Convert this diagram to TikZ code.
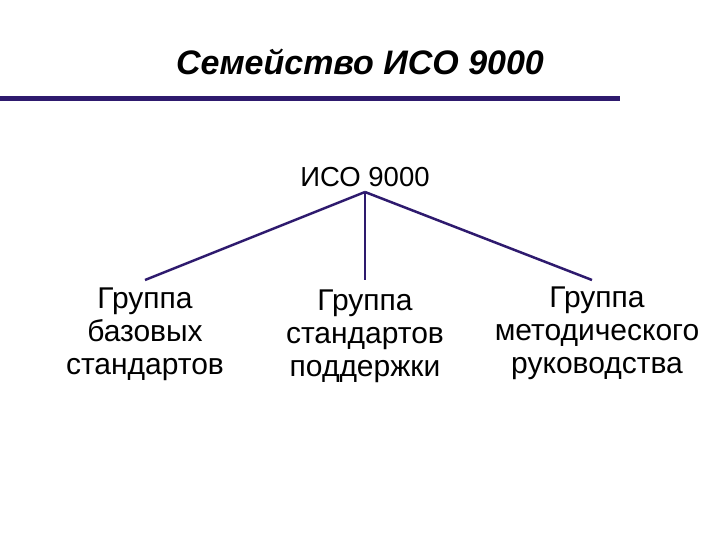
\documentclass[tikz,border=0pt]{standalone}
\usepackage{fontspec}
\setmainfont{Liberation Sans}
\definecolor{navy}{HTML}{2E1A6E}
\begin{document}
\begin{tikzpicture}[x=1pt,y=-1pt,
  lbl/.style={align=center,font=\fontsize{30}{33}\selectfont,inner sep=0pt},
  conn/.style={draw=navy,line width=2.5pt}]
\useasboundingbox (0,0) rectangle (720,540);
\node[font=\fontsize{34}{38}\selectfont\bfseries\itshape] (title) at (360,62) {Семейство ИСО 9000};
\coordinate (l1) at (0,99); \coordinate (l2) at (620,99);
\draw[navy,line width=5pt] (l1) -- (l2);
\node[font=\fontsize{27.5}{30}\selectfont,inner sep=0pt] (root) at (365,177) {ИСО 9000};
\coordinate (top) at (365,192);
\node[lbl] (a) at (145,334) {Группа\\базовых\\стандартов};
\node[lbl] (b) at (365,336) {Группа\\стандартов\\поддержки};
\node[lbl] (c) at (597,333) {Группа\\методического\\руководства};
\coordinate (ea) at (145,280); \coordinate (eb) at (365,280); \coordinate (ec) at (592,280);
\draw[conn] (top) -- (ea);
\draw[conn] (top) -- (eb);
\draw[conn] (top) -- (ec);
\end{tikzpicture}
\end{document}
